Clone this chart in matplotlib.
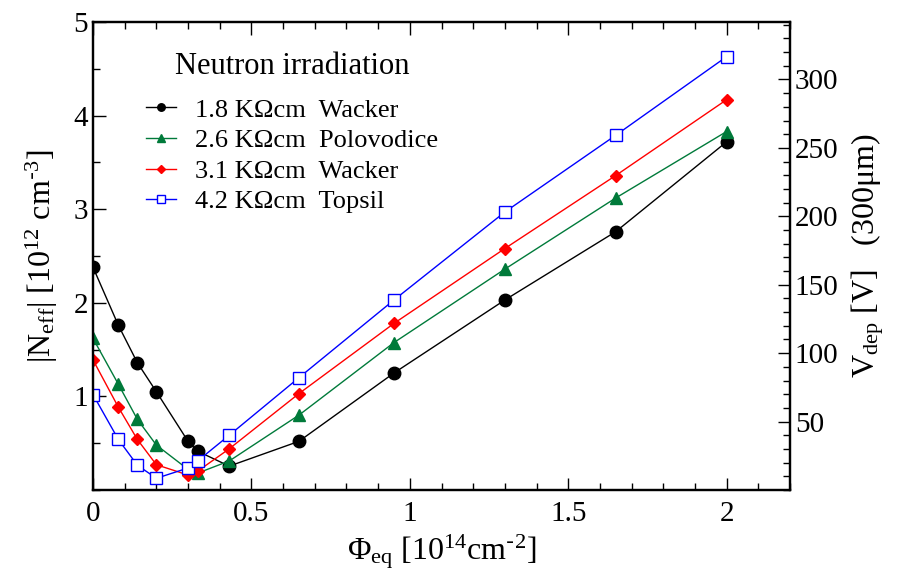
import matplotlib
matplotlib.use("Agg")
import matplotlib.pyplot as plt
from matplotlib.ticker import MultipleLocator, FixedLocator

plt.rcParams["font.family"] = ["Liberation Serif", "DejaVu Serif"]
plt.rcParams["mathtext.default"] = "regular"

# ── Data ──────────────────────────────────────────────────────────────────────
fluence = [0, 0.08, 0.14, 0.20, 0.30, 0.33, 0.43, 0.65, 0.95, 1.30, 1.65, 2.00]

neff_wacker18 = [2.38, 1.76, 1.36, 1.05, 0.52, 0.415, 0.255, 0.52, 1.25, 2.03, 2.76, 3.72]
neff_polo26   = [1.62, 1.13, 0.755, 0.48, 0.22, 0.18, 0.31, 0.80, 1.575, 2.36, 3.12, 3.83]
neff_wacker31 = [1.39, 0.885, 0.54, 0.27, 0.16, 0.20, 0.44, 1.03, 1.78, 2.58, 3.36, 4.17]
neff_topsil42 = [1.02, 0.54, 0.265, 0.125, 0.235, 0.31, 0.585, 1.20, 2.03, 2.97, 3.79, 4.63]

labels = ["1.8 K\u03a9cm  Wacker", "2.6 K\u03a9cm  Polovodice",
          "3.1 K\u03a9cm  Wacker", "4.2 K\u03a9cm  Topsil"]

# V_dep for 300 um per 1e12 cm^-3
v_per_neff = 68.4

fig = plt.figure(figsize=(9.08, 5.75), dpi=100)
ax = fig.add_axes([93/908, 1 - 490/575, (790 - 93)/908, (490 - 22)/575])

green = "#007a3a"
ax.plot(fluence, neff_wacker18, "-o", color="black", lw=1, ms=9, label=labels[0])
ax.plot(fluence, neff_polo26, "-^", color=green, lw=1, ms=9, label=labels[1])
ax.plot(fluence, neff_wacker31, "-D", color="red", lw=1, ms=6.5, label=labels[2])
ax.plot(fluence, neff_topsil42, "-s", color="blue", lw=1, ms=8.5,
        mfc="white", mec="blue", mew=1, label=labels[3])

ax.set_xlim(0, 2.2)
ax.set_ylim(0, 5)
ax.xaxis.set_major_locator(FixedLocator([0, 0.5, 1, 1.5, 2]))
ax.set_xticklabels(["0", "0.5", "1", "1.5", "2"])
ax.xaxis.set_minor_locator(MultipleLocator(0.1))
ax.yaxis.set_major_locator(FixedLocator([1, 2, 3, 4, 5]))
ax.set_yticklabels(["1", "2", "3", "4", "5"])
ax.yaxis.set_minor_locator(MultipleLocator(0.5))
ax.tick_params(axis="x", which="both", direction="in", top=True, bottom=True)
ax.tick_params(axis="y", which="both", direction="in", left=True, right=False)
ax.tick_params(which="major", length=9, width=1, labelsize=21)
ax.tick_params(which="minor", length=5, width=1)
ax.tick_params(axis="x", pad=8)
for s in ax.spines.values():
    s.set_linewidth(1.6)

ax.set_xlabel(r"$\Phi_{eq}$ [10$^{14}$cm$^{\text{-}2}$]", fontsize=23, labelpad=4)
ax.set_ylabel(r"|N$_{eff}$| [10$^{12}$ cm$^{\text{-}3}$]", fontsize=23, labelpad=10)

ax2 = ax.twinx()
ax2.set_ylim(0, 5 * v_per_neff)
ax2.yaxis.set_major_locator(FixedLocator([50, 100, 150, 200, 250, 300]))
ax2.yaxis.set_minor_locator(MultipleLocator(10))
ax2.tick_params(axis="y", which="both", direction="in")
ax2.tick_params(which="major", length=9, width=1, labelsize=21)
ax2.tick_params(which="minor", length=5, width=1)
for s in ax2.spines.values():
    s.set_linewidth(1.6)
ax2.set_ylabel(r"V$_{dep}$ [V]   (300$\mu$m)", fontsize=23, labelpad=8)

leg = ax.legend(loc="upper left", bbox_to_anchor=(0.076, 0.935), frameon=False,
                title="Neutron irradiation", title_fontsize=22, fontsize=19,
                handlelength=1.15, handletextpad=0.7, labelspacing=0.27,
                markerscale=0.6, borderpad=0, borderaxespad=0)
leg._legend_box.sep = 12

fig.savefig("out.png", dpi=100)
